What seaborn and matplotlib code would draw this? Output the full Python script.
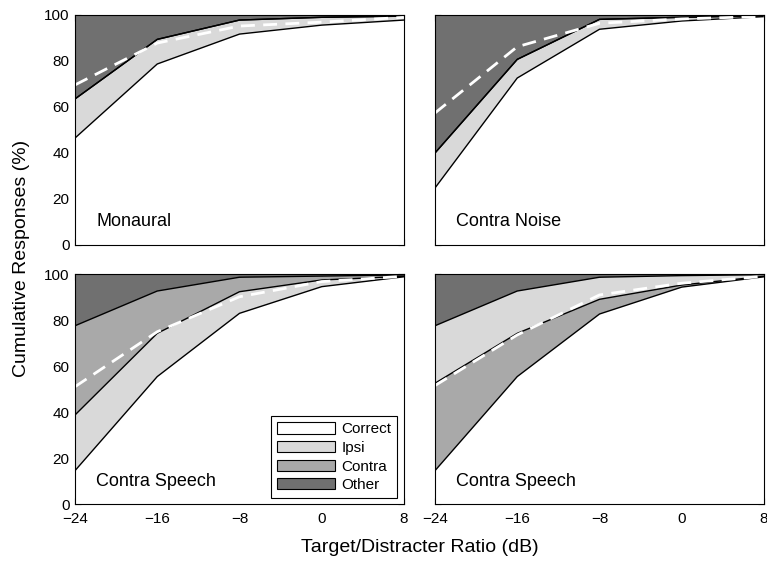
import numpy as np
import pandas as pd
import matplotlib
matplotlib.use("Agg")
import matplotlib.pyplot as plt
from matplotlib.patches import Patch
import seaborn as sns

# ---------------- data ----------------
tdr = [-24, -16, -8, 0, 8]
xtick_labels = ["\u221224", "\u221216", "\u22128", "0", "8"]
ytick_vals = [0, 20, 40, 60, 80, 100]

panel_titles = ["Monaural", "Contra Noise", "Contra Speech", "Contra Speech"]

# Monaural
mon_correct = [46.5, 78.7, 91.7, 95.6, 97.8]
mon_ipsi = [17.0, 10.7, 6.1, 3.4, 1.7]
mon_contra = [0.0, 0.0, 0.0, 0.0, 0.0]
mon_other = [36.5, 10.6, 2.2, 1.0, 0.5]
mon_model = [69.6, 87.8, 95.2, 96.9, 99.0]

# Contra Noise
cn_correct = [24.8, 72.6, 93.8, 97.4, 99.3]
cn_ipsi = [15.2, 8.1, 4.3, 1.6, 0.4]
cn_contra = [0.0, 0.0, 0.0, 0.0, 0.0]
cn_other = [60.0, 19.3, 1.9, 1.0, 0.3]
cn_model = [57.4, 86.2, 96.4, 98.3, 99.4]

# Contra Speech (left)
cs1_correct = [14.5, 55.4, 82.9, 94.5, 98.8]
cs1_ipsi = [24.2, 18.8, 9.4, 2.9, 0.2]
cs1_contra = [38.8, 18.4, 6.3, 1.7, 0.6]
cs1_other = [22.5, 7.4, 1.4, 0.9, 0.4]
cs1_model = [51.0, 74.9, 90.1, 96.7, 99.0]

# Contra Speech (right)
cs2_correct = [14.5, 55.4, 82.6, 94.3, 98.8]
cs2_contra = [38.0, 18.8, 6.4, 0.9, 0.2]
cs2_ipsi = [25.0, 18.4, 9.6, 4.1, 0.7]
cs2_other = [22.5, 7.4, 1.4, 0.7, 0.3]
cs2_model = [51.5, 73.5, 90.9, 96.0, 99.0]

colors = {"Correct": "#ffffff", "Ipsi": "#d9d9d9", "Contra": "#a9a9a9", "Other": "#707070"}

# stacking order (bottom -> top) for each panel
panels = [
    [("Correct", mon_correct), ("Ipsi", mon_ipsi), ("Contra", mon_contra), ("Other", mon_other)],
    [("Correct", cn_correct), ("Ipsi", cn_ipsi), ("Contra", cn_contra), ("Other", cn_other)],
    [("Correct", cs1_correct), ("Ipsi", cs1_ipsi), ("Contra", cs1_contra), ("Other", cs1_other)],
    [("Correct", cs2_correct), ("Contra", cs2_contra), ("Ipsi", cs2_ipsi), ("Other", cs2_other)],
]
models = [mon_model, cn_model, cs1_model, cs2_model]

# ---------------- style ----------------
sns.set_theme(style="ticks")
plt.rcParams["font.family"] = ["Liberation Sans", "DejaVu Sans"]
plt.rcParams["text.color"] = "black"
plt.rcParams["axes.labelcolor"] = "black"
plt.rcParams["xtick.color"] = "black"
plt.rcParams["ytick.color"] = "black"
plt.rcParams["xtick.direction"] = "in"
plt.rcParams["ytick.direction"] = "in"

fig = plt.figure(figsize=(7.67, 5.64), dpi=100)
lefts = [75 / 767, 435 / 767]
width = 329 / 767
bottoms = [1 - 245 / 564, 1 - 504 / 564]
height = 230 / 564

axes = []
for r in range(2):
    for c in range(2):
        axes.append(fig.add_axes([lefts[c], bottoms[r], width, height]))

for i, ax in enumerate(axes):
    layers = panels[i]
    base = np.zeros(len(tdr))
    for name, vals in layers:
        top = base + np.array(vals)
        ax.fill_between(tdr, base, top, facecolor=colors[name], edgecolor="none", zorder=1)
        base = top
    # boundary lines (between layers)
    cum = np.zeros(len(tdr))
    for name, vals in layers[:-1]:
        cum = cum + np.array(vals)
        df = pd.DataFrame({"x": tdr, "y": cum})
        sns.lineplot(data=df, x="x", y="y", ax=ax, color="black", linewidth=1.0,
                     zorder=3, legend=False)
    dfm = pd.DataFrame({"x": tdr, "y": models[i]})
    sns.lineplot(data=dfm, x="x", y="y", ax=ax, color="white", linewidth=2.0,
                 dashes=False, zorder=4, legend=False)
    ax.lines[-1].set_linestyle((0, (5, 3)))

    ax.set_xlim(-24, 8)
    ax.set_ylim(0, 100)
    ax.set_xticks(tdr)
    ax.set_yticks(ytick_vals)
    ax.tick_params(axis="both", which="both", direction="in", length=4, width=0.8,
                   top=True, right=True, labelsize=11, colors="black")
    ax.tick_params(axis="x", pad=6)
    ax.tick_params(axis="y", pad=4)
    if i in (2, 3):
        ax.set_xticklabels(xtick_labels)
    else:
        ax.set_xticklabels([])
    if i in (0, 2):
        ax.set_yticklabels([str(v) for v in ytick_vals])
    else:
        ax.set_yticklabels([])
    ax.set_xlabel("")
    ax.set_ylabel("")
    for s in ax.spines.values():
        s.set_visible(True)
        s.set_color("black")
        s.set_linewidth(0.8)
        s.set_zorder(5)
    ax.text(0.064, 0.1, panel_titles[i], transform=ax.transAxes, fontsize=13,
            ha="left", va="center", zorder=6, color="black")

handles = [Patch(facecolor=colors[k], edgecolor="black", linewidth=0.8, label=k)
           for k in ["Correct", "Ipsi", "Contra", "Other"]]
leg = axes[2].legend(handles=handles, loc="lower right", bbox_to_anchor=(0.98, 0.025),
                     fontsize=11, frameon=True, fancybox=False, edgecolor="black",
                     framealpha=1, handlelength=3.8, handleheight=0.75, labelspacing=0.3,
                     handletextpad=0.4, borderpad=0.4, borderaxespad=0)
leg.get_frame().set_linewidth(0.8)
leg.set_zorder(10)

fig.text(420 / 767, 1 - 548 / 564, "Target/Distracter Ratio (dB)", ha="center", va="center",
         fontsize=14)
fig.text(22 / 767, 1 - 258 / 564, "Cumulative Responses (%)", ha="center", va="center",
         rotation=90, fontsize=14)

fig.savefig("out.png", dpi=100)
